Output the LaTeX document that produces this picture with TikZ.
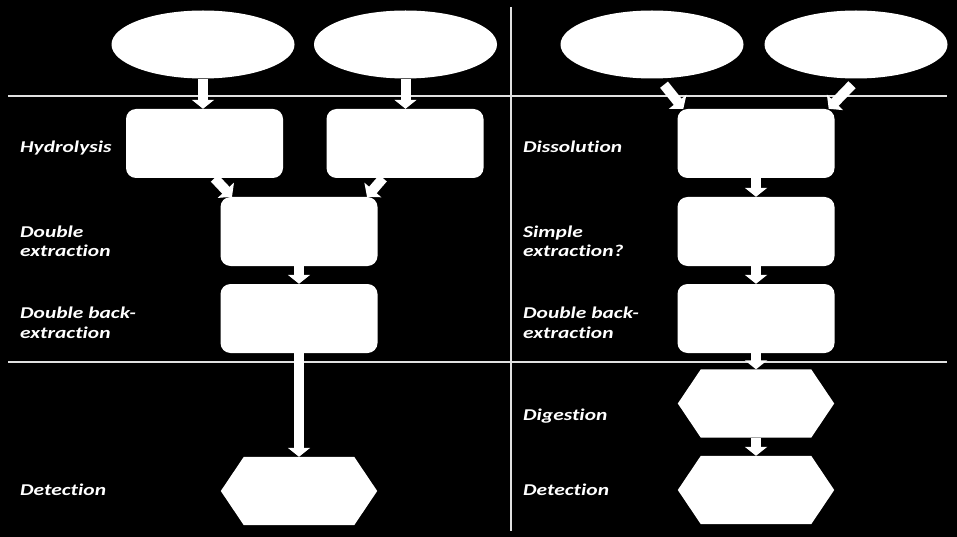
\documentclass[tikz,border=0pt]{standalone}
\usepackage{fontspec}
\setmainfont{Carlito}[FakeStretch=1.3,Ligatures={NoCommon}]
\usetikzlibrary{arrows.meta,shapes.geometric}
\tikzset{
  oval/.style={ellipse, fill=white, minimum width=183pt, minimum height=68pt, inner sep=0pt},
  rbox/.style={rectangle, fill=white, rounded corners=10pt, minimum width=157pt, minimum height=69pt, inner sep=0pt},
  hexbase/.style={rectangle, minimum width=156pt, minimum height=68pt, inner sep=0pt},
  blk/.style={draw=white, line width=10pt, -{Triangle[width=22pt,length=9pt]}},
  sep/.style={draw=white!88!black, line width=1.3pt},
  lbl/.style={text=white, anchor=base west, align=left, inner sep=0pt, font=\bfseries\itshape\fontsize{16.5}{19.5}\selectfont}
}
\newcommand{\hexfill}[1]{\fill[white] (#1.west) -- ([xshift=23pt]#1.north west) -- ([xshift=-23pt]#1.north east) -- (#1.east) -- ([xshift=-23pt]#1.south east) -- ([xshift=23pt]#1.south west) -- cycle;}
\begin{document}
\begin{tikzpicture}[x=1pt,y=-1pt]
\fill[black] (0,0) rectangle (957,537);
\useasboundingbox (0,0) rectangle (957,537);
% separators
\coordinate (vt) at (511,7);
\coordinate (vb) at (511,531);
\coordinate (h1l) at (8,96);
\coordinate (h1r) at (947,96);
\coordinate (h2l) at (8,362);
\coordinate (h2r) at (947,362);
\draw[sep] (vt) -- (vb);
\draw[sep] (h1l) -- (h1r);
\draw[sep] (h2l) -- (h2r);
% left column
\node[oval] (e1) at (203,44.5) {};
\node[oval] (e2) at (405.5,44.5) {};
\node[rbox] (r1) at (204.5,143.5) {};
\node[rbox] (r2) at (405,143.5) {};
\node[rbox] (de) at (299,231.5) {};
\node[rbox] (dbe) at (299,318.5) {};
\node[hexbase] (hl) at (299,491) {};
\hexfill{hl}
% right column
\node[oval] (e3) at (652,44.5) {};
\node[oval] (e4) at (856,44.5) {};
\node[rbox] (ds) at (756,143.5) {};
\node[rbox] (se) at (756,231.5) {};
\node[rbox] (dbr) at (756,318.5) {};
\node[hexbase] (dg) at (756,403.5) {};
\hexfill{dg}
\node[hexbase] (dt) at (756,490) {};
\hexfill{dt}
% arrows
\draw[blk] (e1.south) -- (e1.south |- r1.north);
\draw[blk] (e2.south) -- (e2.south |- r2.north);
\draw[blk] ([xshift=10pt]r1.south) -- ([xshift=-67pt]de.north);
\draw[blk] ([xshift=-22pt]r2.south) -- ([xshift=68pt]de.north);
\draw[blk] (de.south) -- (dbe.north);
\draw[blk] (dbe.south) -- (hl.north);
\draw[blk] ([xshift=12pt,yshift=-6pt]e3.south) -- ([xshift=6pt]ds.north west);
\draw[blk] ([xshift=-4pt,yshift=-6pt]e4.south) -- ([xshift=-6pt]ds.north east);
\draw[blk] (ds.south) -- (se.north);
\draw[blk] (se.south) -- (dbr.north);
\draw[blk] (dbr.south) -- (dg.north);
\draw[blk] (dg.south) -- (dt.north);
% labels (anchor at baseline of last line)
\node[lbl] (t1) at (20,153) {Hydrolysis};
\node[lbl] (t2) at (20,256.5) {Double\\extraction};
\node[lbl] (t3) at (20,338) {Double back-\\extraction};
\node[lbl] (t4) at (20,495.5) {Detection};
\node[lbl] (t5) at (523,153) {Dissolution};
\node[lbl] (t6) at (523,256.5) {Simple\\extraction?};
\node[lbl] (t7) at (523,338) {Double back-\\extraction};
\node[lbl] (t8) at (523,420) {Digestion};
\node[lbl] (t9) at (523,495.5) {Detection};
\end{tikzpicture}
\end{document}
